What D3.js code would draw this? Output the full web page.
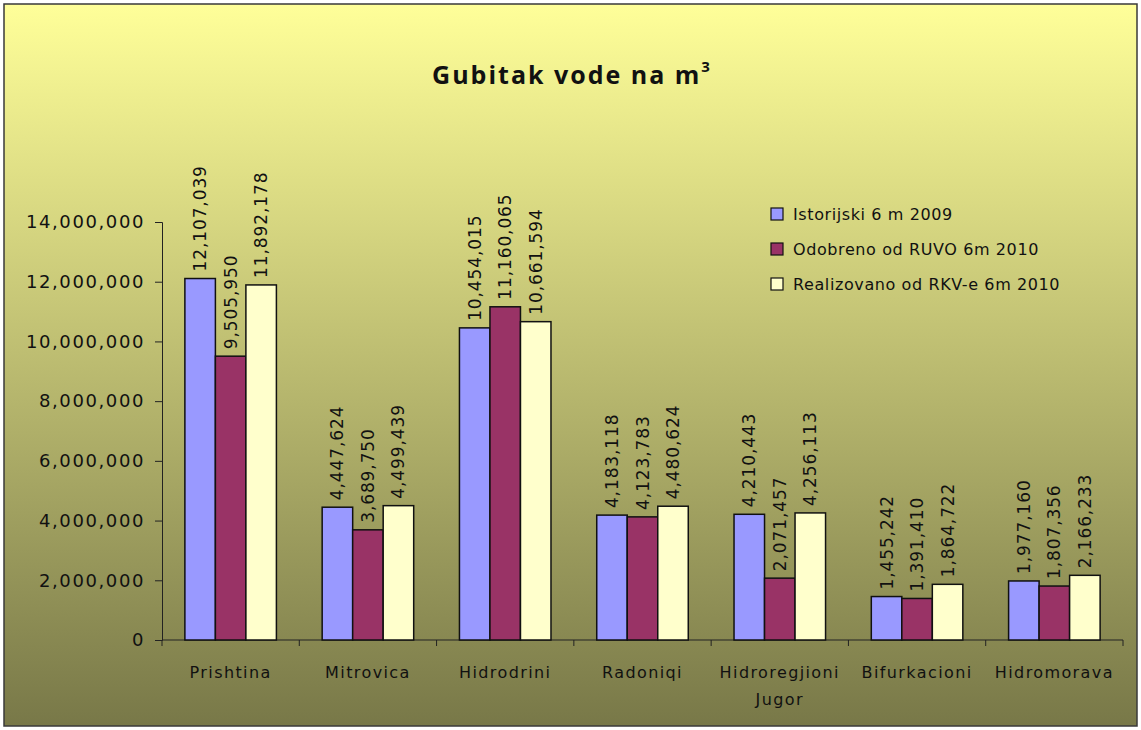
<!DOCTYPE html>
<html>
<head>
<meta charset="utf-8">
<script src="https://cdn.jsdelivr.net/npm/d3@7"></script>
<style>
  body { margin: 0; background: #fff; }
  svg text { font-family: "DejaVu Sans", Verdana, sans-serif; fill: #111; }
</style>
</head>
<body>
<script>
// chart values
var categories = ["Prishtina", "Mitrovica", "Hidrodrini", "Radoniqi", "Hidroregjioni Jugor", "Bifurkacioni", "Hidromorava"];
var seriesNames = ["Istorijski 6 m 2009", "Odobreno od RUVO 6m 2010", "Realizovano od RKV-e 6m 2010"];
var istorijski = [12107039, 4447624, 10454015, 4183118, 4210443, 1455242, 1977160];
var odobreno = [9505950, 3689750, 11160065, 4123783, 2071457, 1391410, 1807356];
var realizovano = [11892178, 4499439, 10661594, 4480624, 4256113, 1864722, 2166233];
var yTicks = [0, 2000000, 4000000, 6000000, 8000000, 10000000, 12000000, 14000000];
var colors = ["#9999ff", "#993366", "#ffffcc"];

var W = 1141, H = 730;
var margin = { top: 222, right: 18, bottom: 90, left: 162 };
var width = W - margin.left - margin.right,
    height = H - margin.top - margin.bottom;

var svg = d3.select("body").append("svg")
    .attr("width", W)
    .attr("height", H);

// background gradient
var grad = svg.append("defs").append("linearGradient")
    .attr("id", "bg")
    .attr("x1", 0).attr("y1", 0).attr("x2", 0).attr("y2", 1);
grad.append("stop").attr("offset", "0%").attr("stop-color", "#ffff99");
grad.append("stop").attr("offset", "100%").attr("stop-color", "#787848");

svg.append("rect")
    .attr("x", 4).attr("y", 4)
    .attr("width", W - 8).attr("height", H - 8)
    .attr("fill", "url(#bg)")
    .attr("stroke", "#3a3a3a")
    .attr("stroke-width", 1.5);

// title
var title = svg.append("text")
    .attr("x", 572).attr("y", 84)
    .attr("text-anchor", "middle")
    .style("font-family", "'Open Sans', sans-serif")
    .style("font-weight", "bold")
    .style("font-size", "25px")
    .style("letter-spacing", "2px");
title.append("tspan").text("Gubitak vode na m");
title.append("tspan").attr("dy", -12).style("font-size", "15px").text("3");

var g = svg.append("g")
    .attr("transform", "translate(" + margin.left + "," + margin.top + ")");

var series = [istorijski, odobreno, realizovano];
var data = categories.map(function (c, i) {
    return { cat: c, values: series.map(function (s, j) { return { key: j, value: s[i] }; }) };
});

var xScale = d3.scaleBand()
    .domain(categories)
    .range([0, width]);

var x1 = d3.scaleBand()
    .domain([0, 1, 2])
    .range([0, xScale.bandwidth()])
    .paddingOuter(0.75);

var yScale = d3.scaleLinear()
    .domain([0, 14000000])
    .range([height, 0]);

// y axis
var yAxis = d3.axisLeft(yScale)
    .tickValues(yTicks)
    .tickSize(7)
    .tickPadding(10)
    .tickFormat(d3.format(","));

var yAxisGroup = g.append("g").call(yAxis);
yAxisGroup.select(".domain").attr("stroke", "#222");
yAxisGroup.selectAll(".tick line").attr("stroke", "#222");
yAxisGroup.selectAll("text")
    .style("font-size", "18px")
    .style("letter-spacing", "1.6px");

// x axis: ticks between categories
g.append("line")
    .attr("x1", 0).attr("x2", width)
    .attr("y1", height).attr("y2", height)
    .attr("stroke", "#222");

g.selectAll(".xsep")
    .data(d3.range(categories.length + 1))
    .enter().append("line")
    .attr("x1", function (i) { return i * xScale.bandwidth(); })
    .attr("x2", function (i) { return i * xScale.bandwidth(); })
    .attr("y1", height).attr("y2", height + 6)
    .attr("stroke", "#222");

var catLabels = g.selectAll(".cat")
    .data(categories)
    .enter().append("text")
    .attr("class", "cat")
    .attr("x", function (d) { return xScale(d) + xScale.bandwidth() / 2; })
    .attr("y", height + 38)
    .attr("text-anchor", "middle")
    .style("font-size", "16px")
    .style("letter-spacing", "1.4px");

catLabels.each(function (d) {
    var words = d.split(" ");
    var t = d3.select(this);
    words.forEach(function (w, k) {
        t.append("tspan")
            .attr("x", t.attr("x"))
            .attr("dy", k === 0 ? 0 : 27)
            .text(w);
    });
});

// bars
var groups = g.selectAll(".grp")
    .data(data)
    .enter().append("g")
    .attr("class", "grp")
    .attr("transform", function (d) { return "translate(" + xScale(d.cat) + ",0)"; });

groups.selectAll("rect")
    .data(function (d) { return d.values; })
    .enter().append("rect")
    .attr("x", function (d) { return x1(d.key); })
    .attr("y", function (d) { return yScale(d.value); })
    .attr("width", x1.bandwidth())
    .attr("height", function (d) { return height - yScale(d.value); })
    .attr("fill", function (d) { return colors[d.key]; })
    .attr("stroke", "#111")
    .attr("stroke-width", 1.5);

// value labels, rotated
groups.selectAll(".val")
    .data(function (d) { return d.values; })
    .enter().append("text")
    .attr("class", "val")
    .attr("transform", function (d) {
        var cx = x1(d.key) + x1.bandwidth() / 2 + 6;
        var cy = yScale(d.value) - 7;
        return "translate(" + cx + "," + cy + ") rotate(-90)";
    })
    .attr("text-anchor", "start")
    .style("font-size", "17px")
    .style("letter-spacing", "0.9px")
    .text(function (d) { return d3.format(",")(d.value); });

// legend
var legend = svg.append("g")
    .attr("transform", "translate(771,208)");

var items = legend.selectAll(".item")
    .data(seriesNames)
    .enter().append("g")
    .attr("transform", function (d, i) { return "translate(0," + (i * 35) + ")"; });

items.append("rect")
    .attr("width", 12).attr("height", 12)
    .attr("fill", function (d, i) { return colors[i]; })
    .attr("stroke", "#111")
    .attr("stroke-width", 1.2);

items.append("text")
    .attr("x", 22).attr("y", 12)
    .style("font-size", "16px")
    .style("letter-spacing", "0.6px")
    .text(function (d) { return d; });
</script>
</body>
</html>
